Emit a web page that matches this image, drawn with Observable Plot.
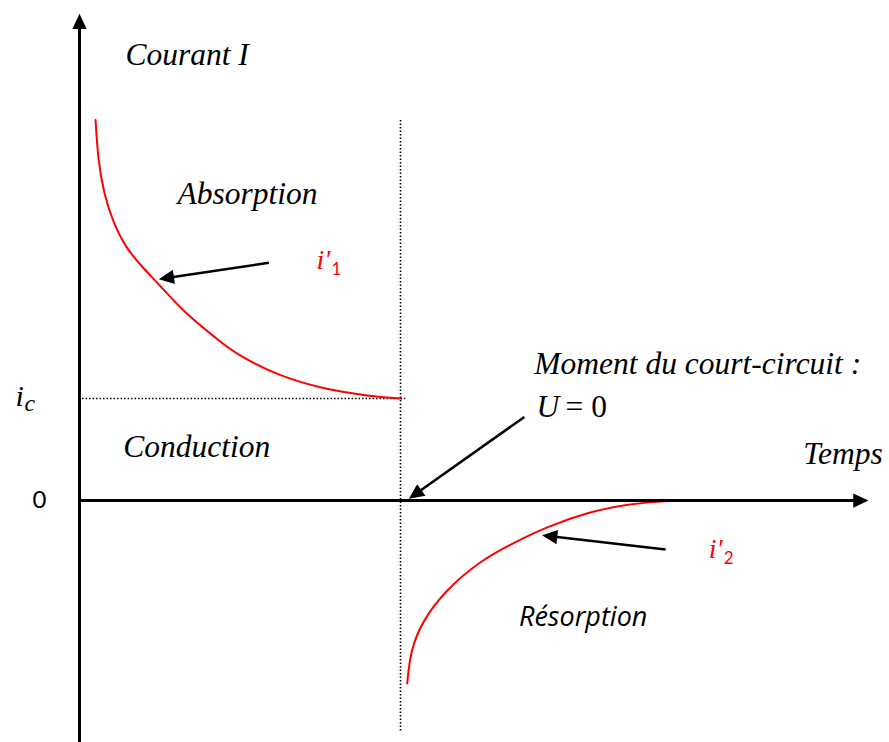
<!DOCTYPE html>
<html><head><meta charset="utf-8">
<script src="https://cdn.jsdelivr.net/npm/d3@7"></script>
<script src="https://cdn.jsdelivr.net/npm/@observablehq/plot@0.6"></script>
<style>body{margin:0;background:#fff} #chart svg{display:block}</style>
</head><body><div id="chart"></div>
<script>
// ---- data (time t in arbitrary units, current I in units of ic) ----
const absorptionT = [0.50, 0.58, 0.76, 1.02, 1.43, 1.95, 2.47, 3.30, 4.34, 4.86, 6.26, 7.82, 8.91, 10.0];
const absorptionI = [3.73, 3.33, 3.01, 2.75, 2.48, 2.29, 2.12, 1.83, 1.57, 1.44, 1.21, 1.08, 1.03, 1.00];
const resorptionT = [10.21, 10.31, 10.68, 11.40, 12.44, 13.48, 14.52, 15.87, 17.11, 18.57];
const resorptionI = [-1.79, -1.47, -1.18, -0.88, -0.60, -0.42, -0.26, -0.11, -0.03, 0];
const icValue = 1;
const tShort = 10;
const shortLineI = [3.73, -2.27];
const icLineT = [0.08, 10.15];

// arrows: axes + annotation pointers
const arrowNames = ["axeI", "axeT", "i1", "court", "i2"];
const arrowT1 = [0, 0, 5.90, 13.86, 18.26];
const arrowI1 = [-2.37, 0, 2.33, 0.82, -0.48];
const arrowT2 = [0, 24.58, 2.47, 10.26, 14.41];
const arrowI2 = [4.77, 0, 2.17, 0.017, -0.34];
const arrowWidth = [3, 3, 2.5, 2.5, 2.5];

// serif italic labels
const serifText = ["Courant I", "Absorption", "Conduction", "Moment du court-circuit :", "Temps"];
const serifT = [1.43, 3.05, 1.36, 14.17, 22.55];
const serifI = [4.265, 2.91, 0.425, 1.24, 0.36];

// current labels i'1, i'2
const currentText = ["i′", "i′"];
const currentSub = ["1", "2"];
const currentT = [7.38, 19.60];
const currentI = [2.27, -0.558];

// tick labels on current axis
const tickValues = [0, icValue];
const tickLabels = ["0", "i"];

const xDomain = [0, 25], yDomain = [-2.37, 4.9];
const xRange = [79, 881.5], yRange = [742, 0];
const xs = Plot.scale({x: {domain: xDomain, range: xRange}});
const ys = Plot.scale({y: {domain: yDomain, range: yRange}});

const HEAD = 15;
const arrows = arrowNames.map((name, k) => {
  const px1 = xs.apply(arrowT1[k]), py1 = ys.apply(arrowI1[k]);
  const px2 = xs.apply(arrowT2[k]), py2 = ys.apply(arrowI2[k]);
  const len = Math.hypot(px2 - px1, py2 - py1);
  const ux = (px2 - px1) / len, uy = (py2 - py1) / len;
  return {
    name, t1: arrowT1[k], i1: arrowI1[k], t2: arrowT2[k], i2: arrowI2[k],
    tb: xs.invert(px2 - ux * (HEAD - 2)), ib: ys.invert(py2 - uy * (HEAD - 2)),
    angle: Math.atan2(ux, -uy) * 180 / Math.PI, w: arrowWidth[k]
  };
});
const arrowHead = {
  draw(context, size) {
    const s = Math.sqrt(size / Math.PI);
    const L = 2.35 * s, hw = 1.1 * s;
    context.moveTo(0, 0);
    context.lineTo(-hw, L);
    context.lineTo(hw, L);
    context.closePath();
  }
};

const absorption = absorptionT.map((t, k) => ({t, I: absorptionI[k]}));
const resorption = resorptionT.map((t, k) => ({t, I: resorptionI[k]}));
const serif = serifText.map((text, k) => ({text, t: serifT[k], I: serifI[k]}));
const currents = currentText.map((text, k) => ({text, sub: currentSub[k], t: currentT[k], I: currentI[k]}));

const serifFont = "Liberation Serif";
const red = "#ff0000";

const chart = Plot.plot({
  width: 889, height: 742,
  marginLeft: 0, marginRight: 0, marginTop: 0, marginBottom: 0,
  x: {domain: xDomain, range: xRange, axis: null},
  y: {domain: yDomain, range: yRange, axis: null},
  marks: [
    // dotted guides
    Plot.link([{}], {x1: tShort, x2: tShort, y1: shortLineI[0], y2: shortLineI[1], stroke: "black", strokeWidth: 1.6, strokeDasharray: "1.5 2"}),
    Plot.link([{}], {x1: icLineT[0], x2: icLineT[1], y1: icValue, y2: icValue, stroke: "black", strokeWidth: 1.6, strokeDasharray: "1.5 2"}),
    // curves
    Plot.line(absorption, {x: "t", y: "I", stroke: red, strokeWidth: 2, curve: "basis"}),
    Plot.line(resorption, {x: "t", y: "I", stroke: red, strokeWidth: 2, curve: "basis"}),
    // arrows
    Plot.link(arrows, {x1: "t1", y1: "i1", x2: "tb", y2: "ib", stroke: "black", strokeWidth: "w"}),
    Plot.dot(arrows, {x: "t2", y: "i2", symbol: arrowHead, r: 6.5, fill: "black", stroke: null, rotate: "angle"}),
    // labels
    Plot.text(serif, {x: "t", y: "I", text: "text", textAnchor: "start", lineAnchor: "bottom", fontFamily: serifFont, fontStyle: "italic", fontSize: 31.5, fill: "black"}),
    Plot.text(["U"], {x: 14.24, y: 0.82, text: d => d, textAnchor: "start", lineAnchor: "bottom", fontFamily: serifFont, fontStyle: "italic", fontSize: 31.5, fill: "black"}),
    Plot.text(["= 0"], {x: 14.24, y: 0.82, dx: 29, text: d => d, textAnchor: "start", lineAnchor: "bottom", fontFamily: serifFont, fontSize: 31.5, fill: "black"}),
    Plot.text(["Résorption"], {x: 13.69, y: -1.225, text: d => d, textAnchor: "start", lineAnchor: "bottom", fontFamily: "Open Sans", fontStyle: "italic", fontSize: 27, fill: "black"}),
    // tick labels
    Plot.text([tickLabels[0]], {x: -1.25, y: tickValues[0], text: d => d, textAnchor: "middle", lineAnchor: "middle", fontFamily: "Lato", fontSize: 24, fill: "black"}),
    Plot.text([tickLabels[1]], {x: -1.99, y: tickValues[1], dy: 7, text: d => d, textAnchor: "start", lineAnchor: "bottom", fontFamily: serifFont, fontStyle: "italic", fontSize: 30, fill: "black"}),
    Plot.text(["c"], {x: -1.99, y: tickValues[1], dx: 9, dy: 12, text: d => d, textAnchor: "start", lineAnchor: "bottom", fontFamily: serifFont, fontStyle: "italic", fontSize: 24, fill: "black"}),
    // i'1 and i'2 labels
    Plot.text(currents, {x: "t", y: "I", text: "text", textAnchor: "start", lineAnchor: "bottom", fontFamily: serifFont, fontStyle: "italic", fontSize: 28, fill: red}),
    Plot.text(currents, {x: "t", y: "I", dx: 15, dy: 6, text: "sub", textAnchor: "start", lineAnchor: "bottom", fontFamily: "Lato", fontSize: 17, fill: red})
  ]
});
document.getElementById("chart").appendChild(chart);
</script></body></html>
